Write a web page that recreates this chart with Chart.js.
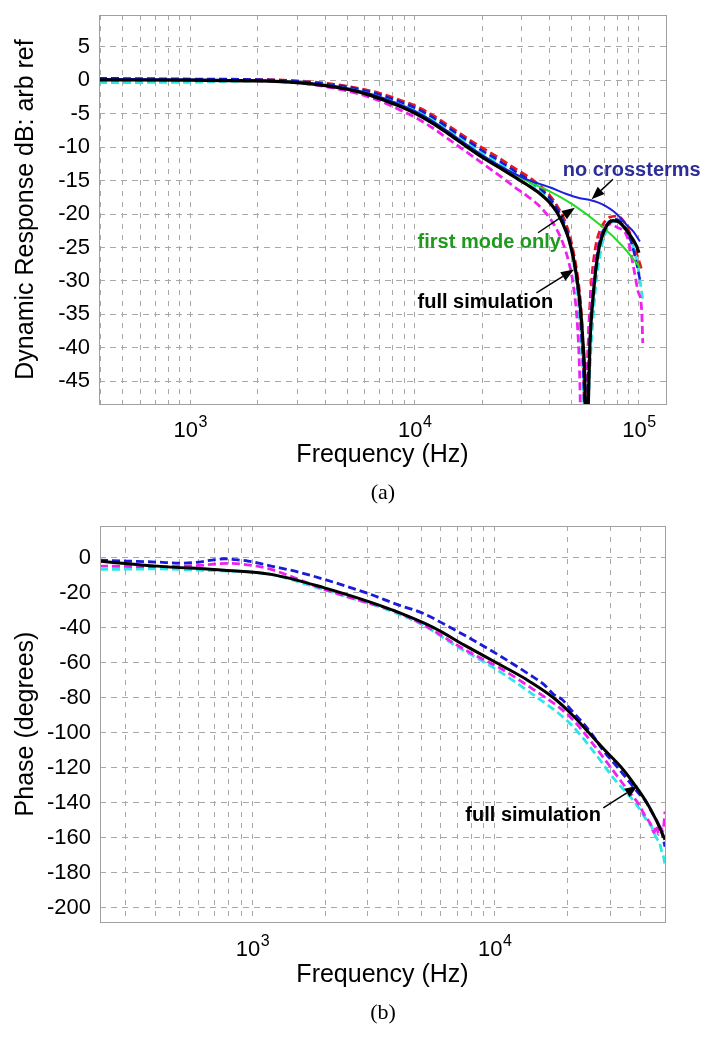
<!DOCTYPE html>
<html>
<head>
<meta charset="utf-8">
<script src="https://cdn.jsdelivr.net/npm/chart.js@4.4.1/dist/chart.umd.min.js"></script>
<style>
    html, body { margin: 0; padding: 0; background: #fff; }
    #page { position: relative; width: 710px; height: 1039px; overflow: hidden; }
    canvas { position: absolute; left: 0; }
    #magChart { top: 0; }
    #phaseChart { top: 500px; }
    .caption { position: absolute; left: 333px; width: 100px; text-align: center;
               font: 22px 'Liberation Serif', 'Times New Roman', serif; color: #000; }
</style>
</head>
<body>
<div id="page">
    <canvas id="magChart" width="710" height="480"></canvas>
    <div class="caption" style="top: 479px;">(a)</div>
    <canvas id="phaseChart" width="710" height="500"></canvas>
    <div class="caption" style="top: 999px;">(b)</div>
</div>
<script>
// ---------- data: (a) dynamic response, dB ----------
const magTicksDb = [-45, -40, -35, -30, -25, -20, -15, -10, -5, 0, 5];

const blackFreq = [392, 1000, 2000, 3000, 4000, 5000, 6000, 7000, 8000, 9000, 10000, 12000, 14000, 17000, 20000, 24000, 28000, 32000, 36000, 40000, 43000, 46000, 48500, 50900, 53000, 54800, 56200, 57400, 58400, 59300, 60400, 62500, 65800, 70500, 76800, 82300, 89600, 97600, 100000];
const blackDb   = [0.05, 0.0, -0.1, -0.35, -0.8, -1.35, -2.0, -2.75, -3.5, -4.2, -4.9, -6.4, -7.9, -9.9, -11.5, -13.1, -14.5, -15.7, -16.9, -18.3, -19.7, -21.6, -23.6, -26.4, -29.8, -34.0, -38.8, -45, -62, -50, -39.8, -32.3, -25.8, -22.3, -21.0, -21.3, -22.8, -24.8, -25.8];

const noCrossFreq = [392, 1000, 2000, 3000, 4000, 5000, 6000, 7000, 8000, 9000, 10000, 12000, 14000, 17000, 20000, 24000, 28000, 32000, 36000, 40000, 47500, 54000, 60500, 66000, 71700, 77000, 82300, 88000, 94300, 101000];
const noCrossDb   = [0.2, 0.1, 0.0, -0.3, -0.7, -1.2, -1.8, -2.5, -3.2, -3.9, -4.6, -6.1, -7.6, -9.6, -11.2, -12.8, -14.0, -14.9, -15.5, -16.0, -17.0, -17.6, -17.9, -18.3, -18.9, -19.6, -20.5, -21.6, -22.6, -24.1];

const firstModeFreq = [392, 1000, 2000, 3000, 4000, 5000, 6000, 7000, 8000, 9000, 10000, 12000, 14000, 17000, 20000, 24000, 28000, 32000, 36000, 40000, 50800, 68100, 85000, 101000];
const firstModeDb   = [0.1, 0.05, -0.05, -0.3, -0.7, -1.2, -1.8, -2.5, -3.2, -3.9, -4.6, -6.1, -7.6, -9.6, -11.2, -12.8, -14.1, -15.1, -15.9, -16.6, -18.6, -21.8, -24.9, -28.0];

const redFreq = [392, 1000, 2000, 3000, 4000, 5000, 6000, 7000, 8000, 9000, 10000, 12000, 14000, 17000, 20000, 24000, 28000, 32000, 36000, 40000, 43000, 46000, 48500, 50900, 53000, 54800, 56000, 56800, 57600, 58600, 59800, 61500, 64000, 68000, 74000, 80000, 86000, 92000, 97000, 102800];
const redDb   = [0.1, 0.1, 0.1, -0.1, -0.45, -0.9, -1.4, -1.95, -2.6, -3.2, -3.8, -5.2, -6.7, -8.6, -10.1, -11.7, -13.2, -14.4, -15.7, -17.2, -18.7, -20.5, -22.6, -25.5, -28.8, -33, -38, -45, -62, -47, -37, -30, -25, -22, -20.5, -20.3, -21.2, -23.2, -25.6, -28.3];

const magentaFreq = [392, 1000, 2000, 3000, 4000, 5000, 6000, 7000, 8000, 9000, 10000, 12000, 14000, 17000, 20000, 24000, 28000, 32000, 36000, 40000, 43000, 46000, 48500, 50900, 53600, 54600, 55600, 57000, 58300, 59200, 61000, 63000, 65500, 69000, 74300, 80000, 88300, 95000, 99000, 102800, 104000];
const magentaDb   = [0.0, 0.0, -0.1, -0.4, -0.95, -1.6, -2.3, -3.1, -3.95, -4.75, -5.5, -7.1, -8.7, -10.7, -12.4, -14.3, -16.0, -17.4, -18.8, -20.6, -22.3, -24.5, -27, -30.5, -38.5, -46, -62, -62, -52, -41, -33, -28.5, -25, -22.6, -21.5, -22.0, -23.3, -28.3, -31.5, -34.3, -39.3];

const cyanFreq = [392, 1000, 2000, 3000, 4000, 5000, 6000, 7000, 8000, 9000, 10000, 12000, 14000, 17000, 20000, 24000, 28000, 32000, 36000, 40000, 43000, 46000, 48500, 50900, 53600, 55500, 56800, 57900, 59000, 60000, 62500, 65800, 71800, 78000, 88300, 97600, 104000];
const cyanDb   = [-0.35, -0.3, -0.1, -0.2, -0.6, -1.1, -1.7, -2.35, -3.05, -3.7, -4.35, -5.8, -7.3, -9.2, -10.8, -12.4, -13.9, -15.1, -16.4, -17.9, -19.4, -21.4, -23.6, -26.8, -32.8, -40.3, -47.3, -62, -52, -45.3, -35.3, -27.8, -22.3, -21.1, -22.8, -26.8, -32.8];

const blueDashFreq = [392, 1000, 2000, 3000, 4000, 5000, 6000, 7000, 8000, 9000, 10000, 12000, 14000, 17000, 20000, 24000, 28000, 32000, 36000, 40000, 43000, 46000, 48500, 50900, 53600, 55500, 56800, 57800, 58900, 60200, 62500, 66000, 71000, 79000, 86000, 92000, 97000, 101000];
const blueDashDb   = [0.3, 0.2, 0.1, -0.15, -0.55, -1.0, -1.55, -2.15, -2.8, -3.45, -4.1, -5.5, -7.0, -8.9, -10.5, -12.1, -13.6, -14.8, -16.1, -17.6, -19.1, -21.0, -23.2, -26.4, -31.5, -38.5, -46, -62, -48, -40, -32, -25, -21.8, -20.8, -21.8, -24, -27, -29.8];

// ---------- data: (b) phase, degrees ----------
const phaseTicksDeg = [-200, -180, -160, -140, -120, -100, -80, -60, -40, -20, 0];

const phBlackFreq = [235, 406, 766, 1195, 1984, 3000, 3740, 5600, 7500, 10000, 13500, 17500, 21000, 24500, 29000, 33700, 38000, 42500, 46500, 50500];
const phBlackDeg  = [-2.1, -4.9, -7.2, -9.6, -17.3, -25, -29.7, -40, -50, -59.5, -69.5, -80, -90, -100, -111, -120.5, -130, -140, -150, -161];

const phBlueFreq = [235, 300, 406, 500, 600, 700, 766, 850, 960, 1195, 1500, 1984, 3000, 4000, 5100, 6000, 7000, 8000, 10200, 14000, 16000, 17500, 19000, 20400, 23000, 25300, 28000, 31400, 35000, 39000, 42000, 44400, 47000, 49000, 50500];
const phBlueDeg  = [-1.5, -2.0, -2.6, -3.2, -2.6, -1.2, -0.7, -1.2, -2.0, -4.9, -7.8, -12.5, -20.5, -27, -32, -37, -42, -46.5, -55, -67, -72.5, -78, -81, -86, -94, -101, -110, -118, -126, -134, -139, -145, -151, -157, -165];

const phMagentaFreq = [235, 406, 600, 800, 1000, 1195, 1984, 3000, 3740, 5100, 7000, 8500, 10200, 14000, 20400, 25300, 31400, 36000, 39000, 42000, 44000, 45500, 46500, 47500, 48500, 49500, 50500];
const phMagentaDeg  = [-4.9, -5.2, -4.5, -3.3, -4.5, -6.8, -18.2, -25.9, -29.7, -38.5, -50, -56.5, -62, -74, -90.7, -105.9, -123, -134, -140, -148, -152, -157, -153, -158, -154, -156, -145];

const phCyanFreq = [235, 406, 700, 1000, 1195, 1984, 3000, 3740, 5100, 7000, 10200, 14000, 20400, 25300, 31400, 36000, 39000, 42000, 44400, 46500, 48000, 49000, 50000, 50500];
const phCyanDeg  = [-6.8, -6.5, -7.5, -8.3, -9.6, -18.5, -26, -30.5, -38.8, -50.8, -64, -77, -94.5, -109.7, -126.9, -136, -142, -149, -153.5, -160, -163, -168, -172, -176];

// decade labels drawn as 10 with a raised exponent
const decadeValues = [100, 1000, 10000, 100000];
const decadeExp    = ['2', '3', '4', '5'];

// ---------- helpers ----------
const pts = (f, v) => f.map((x, i) => ({ x: x, y: v[i] }));

// grid lines at 1..9 x 10^n, like a log axis
function logGrid(min, max) {
    const out = [];
    for (let dec = 100; dec <= 100000; dec *= 10) {
        for (let m = 1; m <= 9; m++) {
            const v = m * dec;
            if (v > min * 1.01 && v < max * 0.99) out.push({ value: v });
        }
    }
    return out;
}

function line(data, color, width, dashed) {
    return {
        data: data,
        borderColor: color,
        borderWidth: width,
        borderDash: dashed ? [8, 4] : [],
        pointRadius: 0,
        fill: false,
        cubicInterpolationMode: 'monotone',
        clip: 0
    };
}

Chart.defaults.font.family = "'Liberation Sans', Arial, Helvetica, sans-serif";
Chart.defaults.color = '#000';

// frame around plot area
const framePlugin = {
    id: 'frame',
    afterDatasetsDraw(chart) {
        const { ctx, chartArea: a } = chart;
        ctx.save();
        ctx.strokeStyle = '#a0a0a0';
        ctx.lineWidth = 1;
        ctx.strokeRect(Math.round(a.left) + 0.5, Math.round(a.top) + 0.5, Math.round(a.right - a.left), Math.round(a.bottom - a.top));
        ctx.restore();
    }
};

// x labels "10" + superscript, placed by the x scale
const decadePlugin = {
    id: 'decades',
    afterDraw(chart, args, opts) {
        const { ctx, chartArea: a } = chart;
        const xs = chart.scales.x;
        const base = a.bottom + opts.offset;
        ctx.save();
        ctx.fillStyle = '#000';
        ctx.textBaseline = 'alphabetic';
        ctx.textAlign = 'left';
        decadeValues.forEach((v, i) => {
            if (v < xs.min || v > xs.max) return;
            const x = xs.getPixelForValue(v);
            ctx.font = '22px "Liberation Sans", Arial, sans-serif';
            const w1 = ctx.measureText('10').width;
            ctx.font = '16px "Liberation Sans", Arial, sans-serif';
            const w2 = ctx.measureText(decadeExp[i]).width;
            const x0 = x - (w1 + w2) / 2;
            ctx.font = '22px "Liberation Sans", Arial, sans-serif';
            ctx.fillText('10', x0, base);
            ctx.font = '16px "Liberation Sans", Arial, sans-serif';
            ctx.fillText(decadeExp[i], x0 + w1 + 0.5, base - 10);
        });
        ctx.restore();
    }
};

// labels with arrows, anchored in data coordinates
const notesPlugin = {
    id: 'notes',
    afterDatasetsDraw(chart, args, opts) {
        const { ctx } = chart;
        const xs = chart.scales.x, ys = chart.scales.y;
        ctx.save();
        (opts.items || []).forEach(n => {
            ctx.font = 'bold 20px "Liberation Sans", Arial, sans-serif';
            ctx.fillStyle = n.color;
            ctx.textAlign = 'left';
            ctx.textBaseline = 'middle';
            ctx.fillText(n.text, xs.getPixelForValue(n.at[0]), ys.getPixelForValue(n.at[1]));

            const x1 = xs.getPixelForValue(n.from[0]), y1 = ys.getPixelForValue(n.from[1]);
            const x2 = xs.getPixelForValue(n.to[0]), y2 = ys.getPixelForValue(n.to[1]);
            const ang = Math.atan2(y2 - y1, x2 - x1);
            const len = 13, half = 5;
            const bx = x2 - len * Math.cos(ang), by = y2 - len * Math.sin(ang);
            ctx.strokeStyle = '#000';
            ctx.fillStyle = '#000';
            ctx.lineWidth = 1.5;
            ctx.beginPath();
            ctx.moveTo(x1, y1);
            ctx.lineTo(bx, by);
            ctx.stroke();
            ctx.beginPath();
            ctx.moveTo(x2, y2);
            ctx.lineTo(bx + half * Math.sin(ang), by - half * Math.cos(ang));
            ctx.lineTo(bx - half * Math.sin(ang), by + half * Math.cos(ang));
            ctx.closePath();
            ctx.fill();
        });
        ctx.restore();
    }
};

function axes(opt) {
    return {
        x: {
            type: 'logarithmic',
            min: opt.xMin,
            max: opt.xMax,
            afterBuildTicks: s => { s.ticks = logGrid(opt.xMin, opt.xMax); },
            afterFit: s => { s.height = opt.xHeight; s.paddingLeft = 0; s.paddingRight = 0; },
            grid: { color: '#a8a8a8', lineWidth: 1, drawTicks: false },
            border: { display: false, dash: [5, 6] },
            ticks: {
                autoSkip: false, maxRotation: 0, minRotation: 0,
                font: { size: 22 },
                callback: () => ''
            },
            title: { display: true, text: 'Frequency (Hz)', font: { size: 25 }, padding: { top: 0, bottom: 10 } }
        },
        y: {
            min: opt.yMin,
            max: opt.yMax,
            afterBuildTicks: s => { s.ticks = opt.yTicks.map(v => ({ value: v })); },
            afterFit: s => { s.width = opt.yWidth; s.paddingTop = 0; s.paddingBottom = 0; },
            grid: { color: '#a8a8a8', lineWidth: 1, drawTicks: false },
            border: { display: false, dash: [6, 5] },
            ticks: { padding: 9, font: { size: 22 } },
            title: { display: true, text: opt.yTitle, font: { size: 25 }, padding: { top: 11, bottom: 0 } }
        }
    };
}

// ---------- (a) magnitude ----------
new Chart(document.getElementById('magChart').getContext('2d'), {
    type: 'line',
    data: {
        datasets: [
            line(pts(blackFreq, blackDb), '#000000', 3.2, false),
            line(pts(noCrossFreq, noCrossDb), '#1f1fe0', 2, false),
            line(pts(firstModeFreq, firstModeDb), '#22dd22', 2, false),
            line(pts(blueDashFreq, blueDashDb), '#1a1ad0', 2.5, true),
            line(pts(magentaFreq, magentaDb), '#ee22ee', 2.8, true),
            line(pts(cyanFreq, cyanDb), '#2ee6e6', 2.8, true),
            line(pts(redFreq, redDb), '#e8161e', 2.8, true)
        ]
    },
    options: {
        responsive: false,
        animation: false,
        layout: { padding: { top: 15, right: 44, left: 0, bottom: 0 } },
        scales: axes({
            xMin: 392, xMax: 132000, xHeight: 76,
            yMin: -48.4, yMax: 9.75, yTicks: magTicksDb, yWidth: 99,
            yTitle: 'Dynamic Response dB: arb ref'
        }),
        plugins: {
            legend: { display: false },
            tooltip: { enabled: false },
            decades: { offset: 33 },
            notes: {
                items: [
                    { text: 'no crossterms', color: '#2d2d9a', at: [45800, -13.5], from: [76600, -14.8], to: [61500, -17.8] },
                    { text: 'first mode only', color: '#1f9a1f', at: [10310, -24.25], from: [35500, -22.8], to: [51800, -19.06] },
                    { text: 'full simulation', color: '#000000', at: [10310, -33.2], from: [34900, -31.8], to: [51300, -28.3] }
                ]
            }
        }
    },
    plugins: [framePlugin, notesPlugin, decadePlugin]
});

// ---------- (b) phase ----------
new Chart(document.getElementById('phaseChart').getContext('2d'), {
    type: 'line',
    data: {
        datasets: [
            line(pts(phBlackFreq, phBlackDeg), '#000000', 3, false),
            line(pts(phBlueFreq, phBlueDeg), '#1a1ad8', 2.8, true),
            line(pts(phMagentaFreq, phMagentaDeg), '#ee22ee', 2.8, true),
            line(pts(phCyanFreq, phCyanDeg), '#2ee6e6', 2.8, true)
        ]
    },
    options: {
        responsive: false,
        animation: false,
        layout: { padding: { top: 26, right: 45, left: 0, bottom: 0 } },
        scales: axes({
            xMin: 235, xMax: 50500, xHeight: 78,
            yMin: -208, yMax: 18, yTicks: phaseTicksDeg, yWidth: 100,
            yTitle: 'Phase (degrees)'
        }),
        plugins: {
            legend: { display: false },
            tooltip: { enabled: false },
            decades: { offset: 34 },
            notes: {
                items: [
                    { text: 'full simulation', color: '#000000', at: [7570, -147.4], from: [28100, -142.9], to: [39000, -130.3] }
                ]
            }
        }
    },
    plugins: [framePlugin, notesPlugin, decadePlugin]
});
</script>
</body>
</html>
